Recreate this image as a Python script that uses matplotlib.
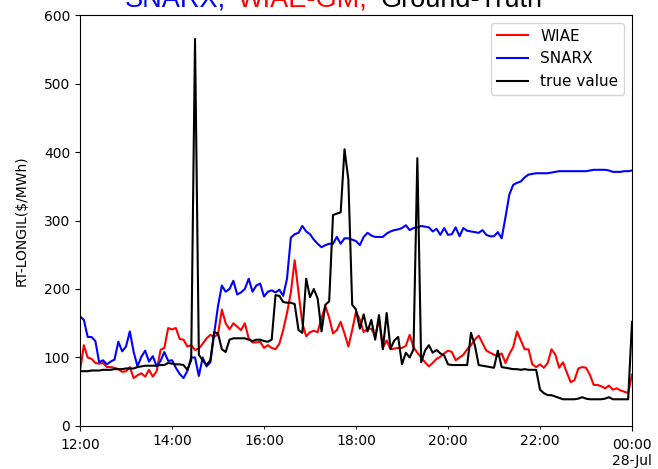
import numpy as np
import matplotlib
matplotlib.use("Agg")
import matplotlib.pyplot as plt

# 5-minute prices, 12:00 on 27-Jul to 00:00 on 28-Jul (145 points)
true_value = [80, 80, 80, 81, 81, 81, 82, 82, 82, 83, 83, 83, 84,
              84, 84, 86, 87, 88, 88, 88, 88, 89, 89, 92, 91, 90, 90, 89, 82, 96,
              565, 104, 96, 89, 96, 137, 135, 112, 108, 126, 128, 128, 128, 128,
              126, 124, 126, 126, 124, 123, 126, 191, 190, 181, 180, 180, 178,
              140, 136, 215, 188, 200, 186, 138, 177, 182, 308, 310, 312, 404,
              360, 177, 170, 142, 163, 138, 155, 126, 162, 112, 165, 113, 125,
              130, 90, 107, 100, 112, 391, 93, 110, 118, 107, 111, 106, 103, 90,
              89, 89, 89, 89, 89, 136, 118, 89, 88, 87, 86, 85, 110, 86, 85, 84,
              83, 83, 82, 83, 82, 82, 82, 53, 48, 45, 45, 43, 41, 39, 39, 39, 39,
              40, 42, 40, 39, 39, 39, 39, 40, 42, 39, 39, 39, 39, 39, 152]

wiae = [80, 118, 100, 98, 92, 91, 92, 86, 86, 85, 83, 79, 80,
        86, 70, 74, 77, 72, 82, 72, 80, 111, 114, 143, 141, 143, 127, 126,
        116, 118, 111, 113, 120, 128, 133, 130, 134, 170, 150, 141, 150, 145,
        140, 150, 128, 122, 122, 123, 114, 118, 114, 112, 120, 140, 165, 195,
        242, 195, 150, 131, 137, 139, 137, 158, 175, 158, 135, 140, 152, 135,
        116, 140, 167, 155, 137, 142, 142, 131, 155, 114, 125, 112, 113, 114,
        114, 117, 133, 115, 107, 100, 93, 87, 92, 98, 101, 106, 110, 108, 96,
        100, 104, 112, 118, 126, 132, 121, 110, 107, 104, 102, 106, 92, 105,
        115, 138, 125, 112, 112, 90, 86, 90, 85, 92, 112, 104, 85, 93, 78, 64,
        67, 84, 86, 85, 75, 60, 60, 58, 55, 59, 53, 55, 52, 50, 48, 75]

snarx = [160, 155, 130, 130, 124, 93, 96, 90, 94, 97, 123, 109, 116,
         138, 108, 87, 101, 110, 94, 102, 87, 95, 108, 95, 96, 85, 76, 70, 80,
         100, 100, 73, 100, 87, 93, 135, 175, 205, 196, 200, 212, 192, 195, 200,
         215, 196, 205, 208, 189, 196, 198, 195, 199, 190, 215, 275, 280, 282,
         292, 284, 280, 272, 266, 261, 264, 266, 266, 276, 266, 274, 274, 272,
         270, 264, 276, 282, 278, 276, 276, 276, 281, 284, 286, 287, 289, 293,
         286, 289, 290, 292, 291, 290, 284, 288, 279, 289, 279, 280, 290, 277,
         289, 285, 284, 283, 282, 286, 279, 277, 277, 283, 274, 305, 338, 352,
         355, 357, 363, 367, 368, 369, 369, 369, 369, 370, 371, 372, 372, 372,
         372, 372, 372, 372, 372, 373, 374, 374, 374, 374, 373, 371, 371, 371,
         372, 372, 373]

hours = 12 + np.arange(len(true_value)) * 5 / 60

title_parts = ["SNARX,", "WIAE-GM,", "Ground-Truth"]
title_colors = ["blue", "red", "black"]
major_ticks = [12, 24]
major_labels = ["12:00", "00:00\n28-Jul"]
minor_ticks = [14, 16, 18, 20, 22]
minor_labels = ["14:00", "16:00", "18:00", "20:00", "22:00"]

fig = plt.figure(figsize=(6.58, 4.69), dpi=100)
ax = fig.add_axes([0.1216, 0.0917, 0.8389, 0.8763])

ax.plot(hours, wiae, color="red", label="WIAE")
ax.plot(hours, snarx, color="blue", label="SNARX")
ax.plot(hours, true_value, color="black", label="true value")

ax.set_xlim(12, 24)
ax.set_ylim(0, 600)
ax.set_yticks(range(0, 601, 100))
ax.set_xticks(major_ticks, major_labels)
ax.set_xticks(minor_ticks, minor_labels, minor=True)
ax.tick_params(axis="x", which="major", pad=5)
ax.tick_params(axis="x", which="minor", length=2, pad=3.5)
ax.set_ylabel("RT-LONGIL($/MWh)", labelpad=11)
ax.legend(loc="upper right", fontsize=11)

# coloured title, mostly above the top edge of the figure
fig.canvas.draw()
r = fig.canvas.get_renderer()
x = 125
for s, c in zip(title_parts, title_colors):
    t = fig.text(x / 658, 1 - 7 / 469, s, color=c, fontsize=19.5,
                 family="Liberation Sans", va="baseline")
    x = t.get_window_extent(renderer=r).x1 + 12

fig.savefig("out.png", dpi=100)
